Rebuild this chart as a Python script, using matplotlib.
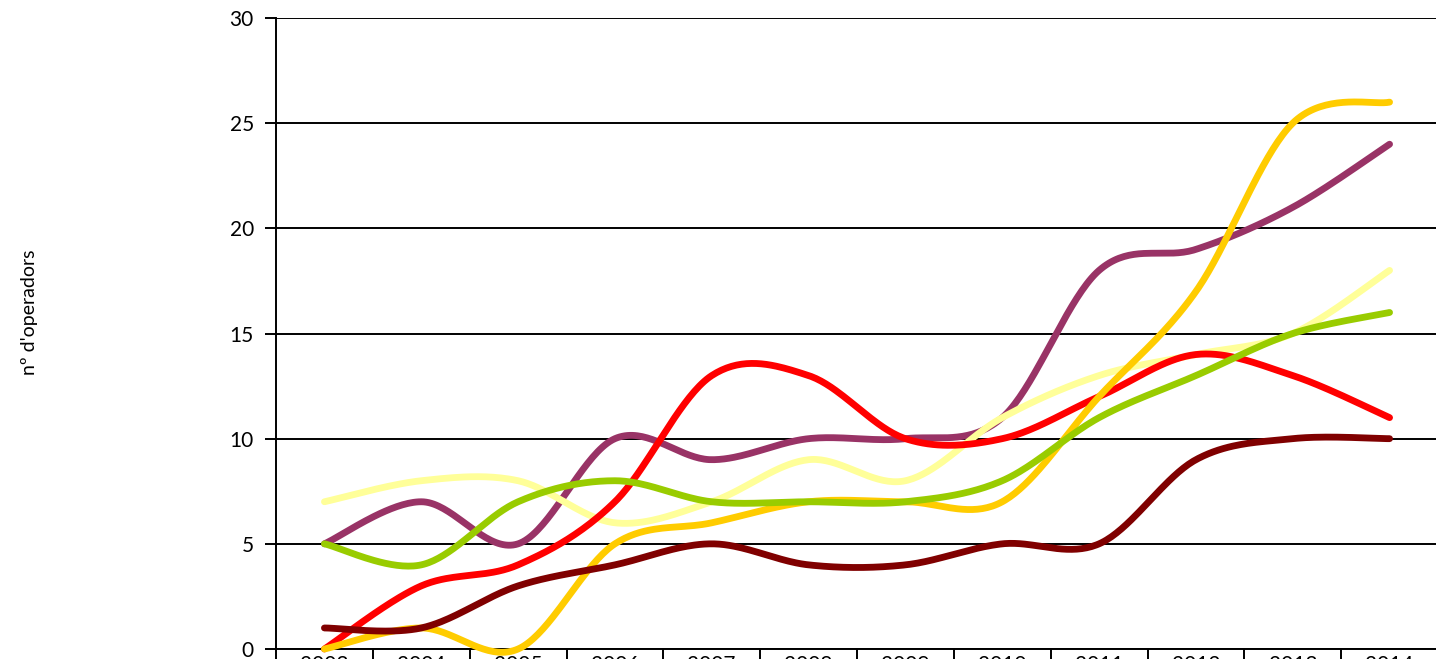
import numpy as np
import matplotlib.pyplot as plt

anys = ['2003', '2004', '2005', '2006', '2007', '2008', '2009', '2010', '2011', '2012', '2013', '2014']

lila = [5, 7, 5, 10, 9, 10, 10, 11, 18, 19, 21, 24]
groc_clar = [7, 8, 8, 6, 7, 9, 8, 11, 13, 14, 15, 18]
vermell = [0, 3, 4, 7, 13, 13, 10, 10, 12, 14, 13, 11]
groc = [0, 1, 0, 5, 6, 7, 7, 7, 12, 17, 25, 26]
verd = [5, 4, 7, 8, 7, 7, 7, 8, 11, 13, 15, 16]
granat = [1, 1, 3, 4, 5, 4, 4, 5, 5, 9, 10, 10]

series = [
    (lila, '#993366'),
    (groc_clar, '#FFFF99'),
    (vermell, '#FF0000'),
    (groc, '#FFCC00'),
    (verd, '#99CC00'),
    (granat, '#800000'),
]


def suavitzar(y, n=40):
    # corba de Catmull-Rom entre punts consecutius
    y = np.asarray(y, dtype=float)
    x = np.arange(len(y), dtype=float)
    px = np.concatenate([[x[0]], x, [x[-1]]])
    py = np.concatenate([[y[0]], y, [y[-1]]])
    xs, ys = [], []
    t = np.linspace(0, 1, n)
    for i in range(1, len(px) - 2):
        p0, p1, p2, p3 = (np.array([px[j], py[j]]) for j in range(i - 1, i + 3))
        c1 = p1 + (p2 - p0) / 6
        c2 = p2 - (p3 - p1) / 6
        b = ((1 - t) ** 3)[:, None] * p1 + (3 * (1 - t) ** 2 * t)[:, None] * c1 \
            + (3 * (1 - t) * t ** 2)[:, None] * c2 + (t ** 3)[:, None] * p2
        xs.append(b[:, 0])
        ys.append(b[:, 1])
    return np.concatenate(xs), np.concatenate(ys)


plt.rcParams['font.family'] = ['Lato', 'DejaVu Sans']

fig = plt.figure(figsize=(14.36, 6.59), dpi=100)
ax = fig.add_axes([276 / 1436, 10 / 659, 1162 / 1436, 631 / 659])

for y, color in series:
    xs, ys = suavitzar(y)
    ax.plot(xs, ys, color=color, lw=4.9, solid_capstyle='round', clip_on=False, zorder=3)

ax.set_xlim(-0.5, len(anys) - 0.5)
ax.set_ylim(0, 30)
ax.set_yticks(range(0, 31, 5))
ax.yaxis.grid(True, color='black', lw=1.4)
ax.set_axisbelow(True)

ax.set_xticks(np.arange(-0.5, len(anys), 1.0))
ax.set_xticklabels([])
ax.set_xticks(np.arange(len(anys)), minor=True)
ax.set_xticklabels(anys, minor=True)
ax.tick_params(axis='x', which='major', direction='out', length=10, width=1.4)
ax.tick_params(axis='x', which='minor', length=0, labelsize=15, pad=4)
ax.tick_params(axis='y', direction='out', length=8, width=1.4, labelsize=15, pad=8)

for side in ['top', 'right']:
    ax.spines[side].set_visible(False)
for side in ['left', 'bottom']:
    ax.spines[side].set_linewidth(1.4)

fig.text(30 / 1436, 1 - 312 / 659, "nº d'operadors", rotation=90, fontsize=14,
         ha='center', va='center')

fig.savefig('out.png', dpi=100)
